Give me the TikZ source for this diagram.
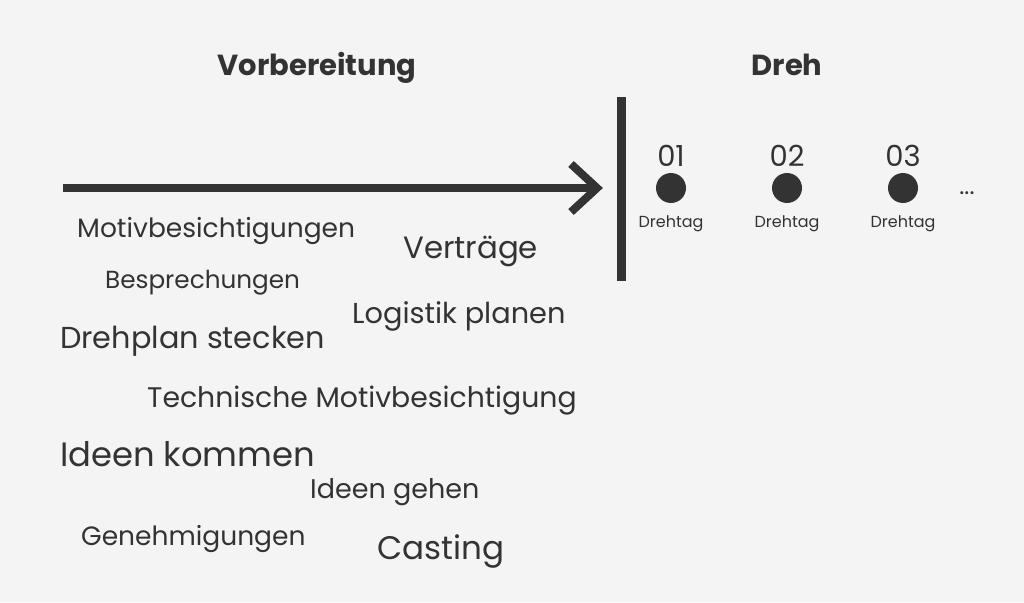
\documentclass[tikz,border=0pt]{standalone}
\usepackage{fontspec}
\setmainfont{Poppins}
\definecolor{ink}{HTML}{333333}
\definecolor{paper}{HTML}{F4F4F4}

\tikzset{
    heading/.style={anchor=base,text=ink,inner sep=0pt,font=\bfseries\fontsize{29}{29}\selectfont},
    daynum/.style={anchor=base,text=ink,inner sep=0pt,font=\fontsize{29}{29}\selectfont},
    daylabel/.style={anchor=base,text=ink,inner sep=0pt,font=\fontsize{16}{16}\selectfont},
    daydot/.style={circle,fill=ink,minimum size=30pt,inner sep=0pt},
    word/.style={anchor=base west,text=ink,inner sep=0pt}
}

\begin{document}
\begin{tikzpicture}[x=1pt,y=-1pt]
    % draw the background
    \fill[paper] (0,0) rectangle (1024,602);
    \useasboundingbox (0,0) rectangle (1024,602);

    % draw the headings
    \node[heading] (prep) at (317,75) {Vorbereitung};
    \node[heading] (shoot) at (787,75) {Dreh};

    % draw the timeline
    \coordinate (start) at (63,188);
    \coordinate (lineend) at (593,188);
    \coordinate (tip) at (597,188);
    \draw[ink,line width=8pt] (start) -- (lineend);
    \draw[ink,line width=8pt,line join=miter] (tip) ++(-26,-24) -- (tip) -- ++(-26,24);

    % draw the border between the two phases
    \coordinate (bartop) at (621,97);
    \coordinate (barbot) at (621,281);
    \draw[ink,line width=9pt] (bartop) -- (barbot);

    \foreach \x/\n in {671/01,787/02,903/03} {
            % number of the day
            \node[daynum] (num\n) at (\x,166) {\n};
            % dot for the day
            \node[daydot] (dot\n) at (\x,188) {};
            % label under the dot
            \node[daylabel] (day\n) at (\x,227) {Drehtag};
    }
    \node[daylabel,font=\fontsize{24}{24}\selectfont] (more) at (967,194) {...};

    % draw the tasks of the preparation
    \foreach \name/\x/\y/\s/\t in {
        visit/77/237/26.5/Motivbesichtigungen,
        contract/403/258/30.8/Verträge,
        meet/105/288/24.7/Besprechungen,
        logistics/352/323/28.8/Logistik planen,
        plan/60/348/30.3/Drehplan stecken,
        tech/147/407/28.3/Technische Motivbesichtigung,
        ideasin/60/466/33.8/Ideen kommen,
        ideasout/310/498/27/Ideen gehen,
        permits/81/545/26.5/Genehmigungen,
        casting/377/559/32.6/Casting}
            \node[word,font=\fontsize{\s}{\s}\selectfont] (\name) at (\x,\y) {\t};
\end{tikzpicture}
\end{document}
